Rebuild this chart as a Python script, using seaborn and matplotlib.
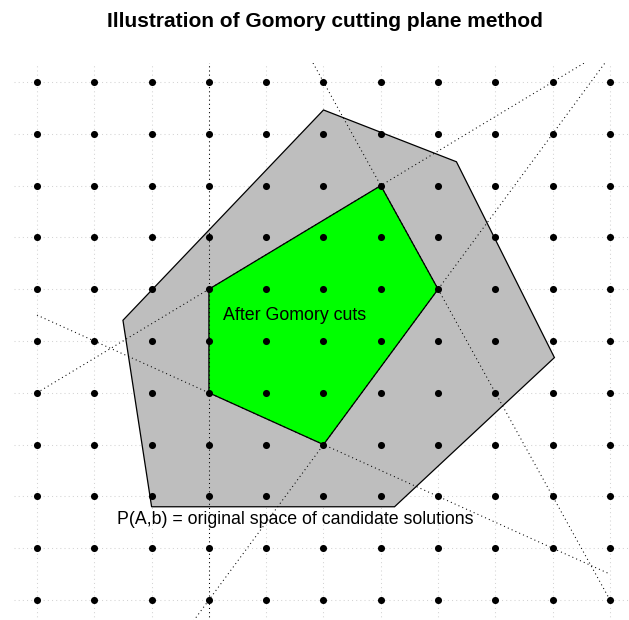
import numpy as np
import pandas as pd
import matplotlib
matplotlib.use("Agg")
import matplotlib.pyplot as plt
import seaborn as sns

# lattice of integer points
lattice_x = list(range(0, 11))
lattice_y = list(range(0, 11))

# original polyhedron P(A,b)
gray_x = [5.0, 7.32, 9.03, 6.24, 2.0, 1.5]
gray_y = [9.46, 8.46, 4.68, 1.8, 1.8, 5.4]

# polytope after Gomory cuts
green_x = [3, 6, 7, 5, 3]
green_y = [6, 8, 6, 3, 4]

# cutting planes (start / end points, clipped by the axes)
cut_x0 = [3, 0, 4.5, 2, 0]
cut_y0 = [-1, 4, 11, -1.5, 5.5]
cut_x1 = [3, 10, 10, 10, 10]
cut_y1 = [11, 10.667, 0, 10.5, 0.5]

title = "Illustration of Gomory cutting plane method"
label_inner = "After Gomory cuts"
label_outer = "P(A,b) = original space of candidate solutions"

sns.set_style("white")
plt.rcParams['font.family'] = ['Liberation Sans', 'DejaVu Sans']

W, H = 629, 620
fig = plt.figure(figsize=(W / 100, H / 100), dpi=100)

# axes placed so that x 0..10 -> px 37..610 and y 0..10 -> px 600..82
xlim = (-0.4, 10.4)
ylim = (-0.4, 10.37)
px_x = (610 - 37) / 10
px_y = (600 - 82) / 10
left = 37 + xlim[0] * px_x
right = 37 + xlim[1] * px_x
bottom = 600 - ylim[0] * px_y
top = 600 - ylim[1] * px_y
ax = fig.add_axes([left / W, (H - bottom) / H, (right - left) / W, (bottom - top) / H])

# light dotted grid
for v in lattice_x:
    ax.axvline(v, color="#d3d3d3", lw=0.75, linestyle=(0, (1, 3)), zorder=1)
for v in lattice_y:
    ax.axhline(v, color="#d3d3d3", lw=0.75, linestyle=(0, (1, 3)), zorder=1)

ax.fill(gray_x, gray_y, facecolor="#bebebe", edgecolor="black", lw=0.9, zorder=2)
ax.fill(green_x, green_y, facecolor="#00ff00", edgecolor="black", lw=0.9, zorder=3)

for i in range(len(cut_x0)):
    ax.plot([cut_x0[i], cut_x1[i]], [cut_y0[i], cut_y1[i]], color="black",
            lw=0.75, linestyle=(0, (1, 3)), zorder=4)

gx, gy = np.meshgrid(lattice_x, lattice_y)
pts = pd.DataFrame({"x": gx.ravel(), "y": gy.ravel()})
sns.scatterplot(data=pts, x="x", y="y", color="black", s=26, linewidth=0, ax=ax, zorder=5)

ax.text(4.5, 5.5, label_inner, ha="center", va="center", fontsize=12.8, color="black", zorder=6)
ax.text(4.5, 1.55, label_outer, ha="center", va="center", fontsize=12.8, color="black", zorder=6)

ax.set_xlim(*xlim)
ax.set_ylim(*ylim)
ax.set_xticks([])
ax.set_yticks([])
ax.set_xlabel("")
ax.set_ylabel("")
for s in ax.spines.values():
    s.set_visible(False)

fig.text(325 / W, 1 - 27 / H, title, ha="center", va="baseline", fontsize=15,
         fontweight="bold", color="black")

fig.savefig("out.png", dpi=100)
